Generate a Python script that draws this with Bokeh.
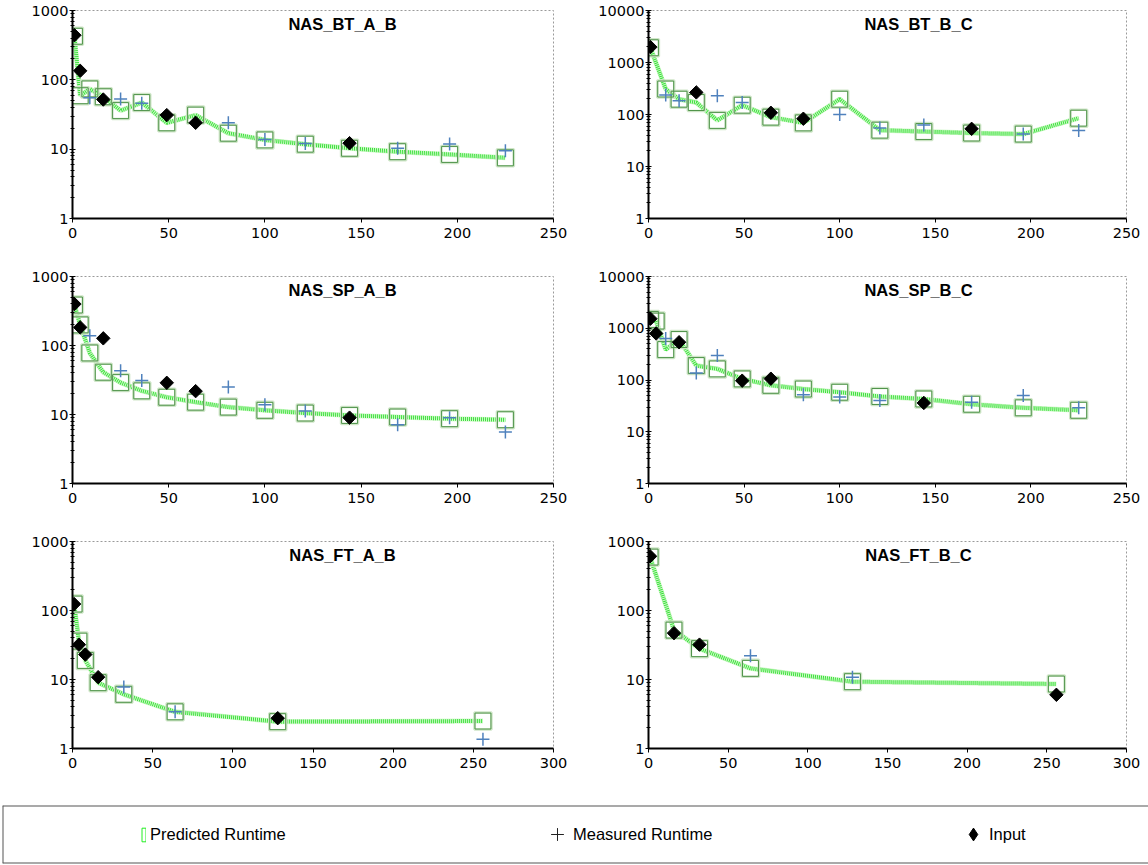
from bokeh.plotting import figure
from bokeh.models import Range1d, Label, Legend, LegendItem, FixedTicker, Span
from bokeh.layouts import column, row
from bokeh.embed import file_html
from bokeh.resources import INLINE

# ---------------- data ----------------
# NAS_BT_A_B
bt_ab_x = [1, 4, 9, 16, 25, 36, 49, 64, 81, 100, 121, 144, 169, 196, 225]
bt_ab_pred = [425, 59, 74, 57, 36, 47, 24, 31, 17, 13.6, 11.8, 10.3, 9.2, 8.4, 7.5]
bt_ab_meas_x = [9, 25, 36, 81, 100, 121, 169, 196, 225]
bt_ab_meas = [55, 53, 46, 24, 13.8, 12.1, 10.3, 11.9, 9.5]
bt_ab_in_x = [1, 4, 16, 49, 64, 144]
bt_ab_in = [440, 135, 52, 31, 24, 12.2]

# NAS_BT_B_C
bt_bc_x = [1, 9, 16, 25, 36, 49, 64, 81, 100, 121, 144, 169, 196, 225]
bt_bc_pred = [1920, 309, 197, 170, 77, 151, 89, 69, 197, 50, 47, 44, 42, 85]
bt_bc_meas_x = [9, 16, 36, 49, 100, 121, 144, 196, 225]
bt_bc_meas = [236, 183, 229, 170, 100, 55, 63, 42, 49]
bt_bc_in_x = [1, 25, 64, 81, 169]
bt_bc_in = [1980, 266, 108, 83, 53]

# NAS_SP_A_B
sp_ab_x = [1, 4, 9, 16, 25, 36, 49, 64, 81, 100, 121, 144, 169, 196, 225]
sp_ab_pred = [386, 199, 78, 41, 29, 22, 17.8, 15.1, 12.8, 11.5, 10.5, 9.7, 9.2, 8.7, 8.4]
sp_ab_meas_x = [9, 25, 36, 81, 100, 121, 169, 196, 225]
sp_ab_meas = [139, 43, 31, 25, 13.9, 11.2, 7.1, 9.0, 5.6]
sp_ab_in_x = [1, 4, 16, 49, 64, 144]
sp_ab_in = [399, 183, 127, 28.8, 21.8, 9.0]

# NAS_SP_B_C
sp_bc_x = [1, 4, 9, 16, 25, 36, 49, 64, 81, 100, 121, 144, 169, 196, 225]
sp_bc_pred = [1480, 1375, 387, 605, 190, 164, 105, 79, 67, 58, 48, 43, 34, 29, 26]
sp_bc_meas_x = [9, 25, 36, 81, 100, 121, 169, 196, 225]
sp_bc_meas = [634, 137, 297, 52, 47, 40, 37, 50, 29]
sp_bc_in_x = [1, 4, 16, 49, 64, 144]
sp_bc_in = [1530, 792, 537, 97, 106, 36]

# NAS_FT_A_B
ft_ab_x = [1, 4, 8, 16, 32, 64, 128, 256]
ft_ab_pred = [124, 36, 18.9, 9.0, 6.1, 3.4, 2.45, 2.5]
ft_ab_meas_x = [32, 64, 256]
ft_ab_meas = [7.8, 3.4, 1.36]
ft_ab_in_x = [1, 4, 8, 16, 128]
ft_ab_in = [124, 32, 23, 10.8, 2.75]

# NAS_FT_B_C
ft_bc_x = [1, 16, 32, 64, 128, 256]
ft_bc_pred = [594, 52, 28, 14.5, 9.3, 8.6]
ft_bc_meas_x = [64, 128]
ft_bc_meas = [22, 10.8]
ft_bc_in_x = [1, 16, 32, 256]
ft_bc_in = [610, 47, 32, 6.0]

x_ticks_250 = [0, 50, 100, 150, 200, 250]
x_ticks_300 = [0, 50, 100, 150, 200, 250, 300]
y_ticks_all = [1, 10, 100, 1000, 10000]
y_labels = {1: "1", 10: "10", 100: "100", 1000: "1000", 10000: "10000"}

legend_labels = ["Predicted Runtime", "Measured Runtime", "Input"]

TICK_FONT = "DejaVu Sans"
TITLE_FONT = "Liberation Sans"
NAN = float("nan")


def panel(title, px, pred, mx, meas, ix, inp, ymax, xticks, left, top_row):
    frame_h = 208 if top_row else 207
    p = figure(width=574, height=265,
               x_range=Range1d(xticks[0], xticks[-1]), y_range=Range1d(1, ymax),
               y_axis_type="log", output_backend="svg", toolbar_location=None,
               min_border_left=72 if left else 74,
               min_border_right=21 if left else 22,
               min_border_top=10 if top_row else 11,
               min_border_bottom=47,
               background_fill_color="white", border_fill_color="white")
    p.xgrid.visible = False
    p.ygrid.visible = False
    p.outline_line_color = "#9a9a9a"
    p.outline_line_dash = "2 2"
    p.outline_line_width = 1

    # x axis
    p.xaxis.ticker = FixedTicker(ticks=xticks)
    p.xaxis.axis_line_width = 2
    p.xaxis.axis_line_color = "black"
    p.xaxis.major_tick_out = 4
    p.xaxis.major_tick_in = 0
    p.xaxis.minor_tick_out = 0
    p.xaxis.minor_tick_in = 0
    p.xaxis.major_tick_line_color = "black"
    p.xaxis.major_label_standoff = 5
    p.xaxis.major_label_text_font = TICK_FONT
    p.xaxis.major_label_text_font_size = "14.5px"
    p.xaxis.major_label_text_color = "black"

    # y axis (log)
    yt = [t for t in y_ticks_all if t <= ymax]
    minors = [m * t for t in yt[:-1] for m in range(2, 10)]
    p.yaxis.ticker = FixedTicker(ticks=yt, minor_ticks=minors)
    p.yaxis.major_label_overrides = {t: y_labels[t] for t in yt}
    p.yaxis.axis_line_width = 2
    p.yaxis.axis_line_color = "black"
    p.yaxis.major_tick_out = 3
    p.yaxis.major_tick_in = 3
    p.yaxis.minor_tick_out = 2
    p.yaxis.minor_tick_in = 2
    p.yaxis.major_tick_line_color = "black"
    p.yaxis.minor_tick_line_color = "black"
    p.yaxis.major_label_standoff = 1
    p.yaxis.major_label_text_font = TICK_FONT
    p.yaxis.major_label_text_font_size = "14.5px"
    p.yaxis.major_label_text_color = "black"

    # predicted curve (green dotted double line)
    p.line(px, pred, line_color="#d2f8cc", line_width=5)
    p.line(px, pred, line_color="#3ae23a", line_width=4, line_dash="1 1")
    # predicted squares
    p.scatter(px, pred, marker="square", size=17, fill_color=None,
              line_color="#cfe6c8", line_width=2.5)
    p.scatter(px, pred, marker="square", size=16, fill_color=None,
              line_color="#4f934a", line_width=1)
    # measured
    p.scatter(mx, meas, marker="cross", size=13, line_color="#4f81bd", line_width=1.5)
    # input
    p.scatter(ix, inp, marker="square", angle=0.7854, size=9.5,
              fill_color="black", line_color="black", line_width=1)

    p.add_layout(Label(x=270, y=frame_h - 13, x_units="screen", y_units="screen",
                       text=title, text_font=TITLE_FONT, text_font_style="bold",
                       text_font_size="16.5px", text_align="center",
                       text_baseline="middle", text_color="black"))
    return p


p1 = panel("NAS_BT_A_B", bt_ab_x, bt_ab_pred, bt_ab_meas_x, bt_ab_meas, bt_ab_in_x, bt_ab_in,
           1000, x_ticks_250, True, True)
p2 = panel("NAS_BT_B_C", bt_bc_x, bt_bc_pred, bt_bc_meas_x, bt_bc_meas, bt_bc_in_x, bt_bc_in,
           10000, x_ticks_250, False, True)
p3 = panel("NAS_SP_A_B", sp_ab_x, sp_ab_pred, sp_ab_meas_x, sp_ab_meas, sp_ab_in_x, sp_ab_in,
           1000, x_ticks_250, True, False)
p4 = panel("NAS_SP_B_C", sp_bc_x, sp_bc_pred, sp_bc_meas_x, sp_bc_meas, sp_bc_in_x, sp_bc_in,
           10000, x_ticks_250, False, False)
p5 = panel("NAS_FT_A_B", ft_ab_x, ft_ab_pred, ft_ab_meas_x, ft_ab_meas, ft_ab_in_x, ft_ab_in,
           1000, x_ticks_300, True, False)
p6 = panel("NAS_FT_B_C", ft_bc_x, ft_bc_pred, ft_bc_meas_x, ft_bc_meas, ft_bc_in_x, ft_bc_in,
           1000, x_ticks_300, False, False)

# ---------------- legend strip ----------------
pl = figure(width=1148, height=70, x_axis_type=None, y_axis_type=None,
            x_range=Range1d(0, 1), y_range=Range1d(0, 1),
            toolbar_location=None, output_backend="svg",
            min_border_left=2, min_border_right=0, min_border_top=10, min_border_bottom=2,
            outline_line_color=None,
            background_fill_color="white", border_fill_color="white")
pl.xgrid.visible = False
pl.ygrid.visible = False
for loc, dim in [(0, "width"), (1, "width"), (0, "height")]:
    pl.add_layout(Span(location=loc, dimension=dim, line_color="#555555", line_width=2))

# legend keys only (NaN coordinates -> nothing drawn in the strip itself)
r1 = pl.quad(left=[NAN], right=[NAN], top=[NAN], bottom=[NAN], fill_color=None,
             line_color="#22ee22", line_width=1)
r2 = pl.scatter(x=[NAN], y=[NAN], marker="cross", line_color="#222222", line_width=1)
r3 = pl.scatter(x=[NAN], y=[NAN], marker="diamond", fill_color="black", line_color="black")

LEG_FONT = "Liberation Sans"
specs = [
    (r1, legend_labels[0], 139, 5, 17, 4),
    (r2, legend_labels[1], 539, 32, 32, -7),
    (r3, legend_labels[2], 955, 32, 32, -8),
]
for rend, lab, lx, gw, gh, so in specs:
    lg = Legend(items=[LegendItem(label=lab, renderers=[rend])],
                location=(lx, 29 - max(gh, 20) / 2),
                glyph_width=gw, glyph_height=gh, label_standoff=so,
                padding=0, margin=0, border_line_color=None,
                background_fill_alpha=0, label_text_font=LEG_FONT,
                label_text_font_size="16.5px", label_text_color="black")
    pl.add_layout(lg)

layout = column(row(p1, p2), row(p3, p4), row(p5, p6), pl)

with open("out.html", "w") as f:
    f.write(file_html(layout, INLINE))
